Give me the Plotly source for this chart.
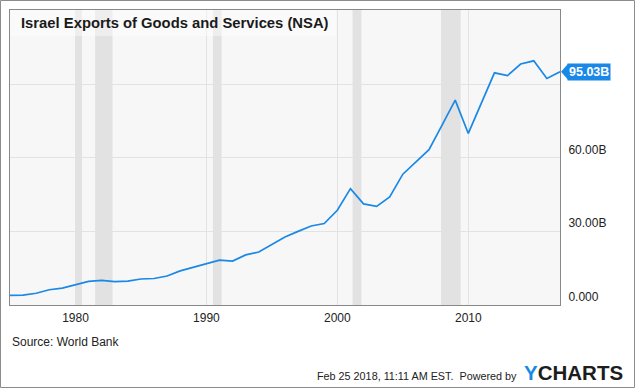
import plotly.graph_objects as go

# ---- data ----
years = [1974, 1975, 1976, 1977, 1978, 1979, 1980, 1981, 1982, 1983,
         1984, 1985, 1986, 1987, 1988, 1989, 1990, 1991, 1992, 1993,
         1994, 1995, 1996, 1997, 1998, 1999, 2000, 2001, 2002, 2003,
         2004, 2005, 2006, 2007, 2008, 2009, 2010, 2011, 2012, 2013,
         2014, 2015, 2016]
exports_b = [3.9, 4.0, 4.8, 6.2, 6.9, 8.4, 9.6, 10.0, 9.5, 9.7,
             10.6, 10.8, 11.8, 13.9, 15.4, 16.6, 18.3, 17.9, 20.4, 21.6,
             24.5, 27.7, 30.0, 32.2, 33.2, 38.6, 47.4, 41.2, 40.2, 44.0,
             53.3, 58.3, 63.3, 73.3, 83.5, 69.9, 82.1, 94.6, 93.5, 98.2,
             99.5, 92.3, 95.03]
last_label = "95.03B"

x_tick_vals = ["1980-01-01", "1990-01-01", "2000-01-01", "2010-01-01"]
x_tick_text = ["1980", "1990", "2000", "2010"]
y_tick_vals = [0, 30, 60, 90]
y_tick_text = ["0.000", "30.00B", "60.00B", ""]
y_range = [0, 120.2]

recessions = [("1980-01-01", "1980-07-01"), ("1981-07-01", "1982-11-01"),
              ("1990-07-01", "1991-03-01"), ("2001-03-01", "2001-11-01"),
              ("2007-12-01", "2009-06-01")]

title_text = "Israel Exports of Goods and Services (NSA)"
source_text = "Source: World Bank"
footer_text = "Feb 25 2018, 11:11 AM EST.  Powered by"

BLUE = "#1a88e6"
W, H = 635, 388
ML, MR, MT, MB = 10, 75, 10, 83
PW, PH = W - ML - MR, H - MT - MB


def px(xp):
    return (xp - ML) / PW


def py(yp):
    return (H - MB - yp) / PH


dates = [f"{y}-12-31" for y in years]

fig = go.Figure()
fig.add_trace(go.Scatter(x=dates, y=exports_b, mode="lines",
                         line=dict(color=BLUE, width=1.7),
                         hoverinfo="skip", showlegend=False))

shapes = []
for a, b in recessions:
    shapes.append(dict(type="rect", xref="x", yref="paper", x0=a, x1=b,
                       y0=0, y1=1, fillcolor="#e2e2e2", line=dict(width=0),
                       layer="below"))
# title backdrop
shapes.append(dict(type="rect", xref="paper", yref="paper",
                   x0=0, x1=px(336), y0=py(36), y1=1,
                   fillcolor="rgba(255,255,255,0.42)", line=dict(width=0),
                   layer="above"))
# outer frame of image
shapes.append(dict(type="rect", xref="paper", yref="paper",
                   x0=px(0.5), x1=px(W - 0.5), y0=py(H - 0.5), y1=py(0.5),
                   line=dict(color="#8c8c8c", width=1), fillcolor="rgba(0,0,0,0)",
                   layer="above"))
# tag arrow (pointer of the last-value label), anchored at the right plot edge
last_frac = (exports_b[-1] - y_range[0]) / (y_range[1] - y_range[0])
shapes.append(dict(type="path", xref="paper", yref="paper",
                   xsizemode="pixel", ysizemode="pixel",
                   xanchor=1, yanchor=last_frac,
                   path="M 1 0 L 8 8 L 8 -8 Z",
                   fillcolor=BLUE, line=dict(width=0), layer="above"))

annotations = [
    dict(xref="paper", yref="paper", x=px(19), y=py(23), xanchor="left",
         yanchor="middle", text="<b>" + title_text + "</b>", showarrow=False,
         font=dict(family="Liberation Sans, Arial", size=14.8, color="#1a1a1a")),
    dict(xref="x", yref="y", x=dates[-1], y=exports_b[-1], xanchor="left",
         yanchor="middle", xshift=7, text="<b>" + last_label + "</b>",
         showarrow=False, bgcolor=BLUE, borderpad=1,
         font=dict(family="Liberation Sans, Arial", size=12.5, color="white")),
    dict(xref="paper", yref="paper", x=px(10), y=py(342), xanchor="left",
         yanchor="middle", text=source_text, showarrow=False,
         font=dict(family="Liberation Sans, Arial", size=12, color="#222")),
    dict(xref="paper", yref="paper", x=px(519), y=py(376), xanchor="right",
         yanchor="middle", text=footer_text, showarrow=False,
         font=dict(family="Liberation Sans, Arial", size=10.8, color="#222")),
    dict(xref="paper", yref="paper", x=px(522), y=py(372), xanchor="left",
         yanchor="middle",
         text="<b><span style='color:" + BLUE + "'>Y</span>CHARTS</b>",
         showarrow=False,
         font=dict(family="Liberation Sans, Arial", size=20.5, color="#1d1d1d")),
]

fig.update_layout(
    width=W, height=H,
    margin=dict(l=ML, r=MR, t=MT, b=MB, pad=0),
    paper_bgcolor="white", plot_bgcolor="#f7f7f7",
    shapes=shapes, annotations=annotations, showlegend=False,
    xaxis=dict(type="date", range=["1975-01-01", "2017-01-01"],
               tickvals=x_tick_vals, ticktext=x_tick_text,
               showgrid=True, gridcolor="#e2e2e2", gridwidth=1,
               showline=True, linecolor="#888", linewidth=1, mirror=True,
               ticks="", zeroline=False, ticklabelstandoff=2,
               tickfont=dict(family="Liberation Sans, Arial", size=12, color="#222")),
    yaxis=dict(side="right", range=y_range,
               tickvals=y_tick_vals, ticktext=y_tick_text,
               showgrid=True, gridcolor="#e2e2e2", gridwidth=1,
               showline=True, linecolor="#888", linewidth=1, mirror=True,
               ticks="", zeroline=False, ticklabelposition="outside top",
               ticklabelstandoff=5,
               tickfont=dict(family="Liberation Sans, Arial", size=12, color="#222")),
)

fig.write_html("out.html", config={"displayModeBar": False},
               post_script="document.body.style.margin='0';"
                           "document.body.style.padding='0';"
                           "document.body.style.overflow='hidden';")
